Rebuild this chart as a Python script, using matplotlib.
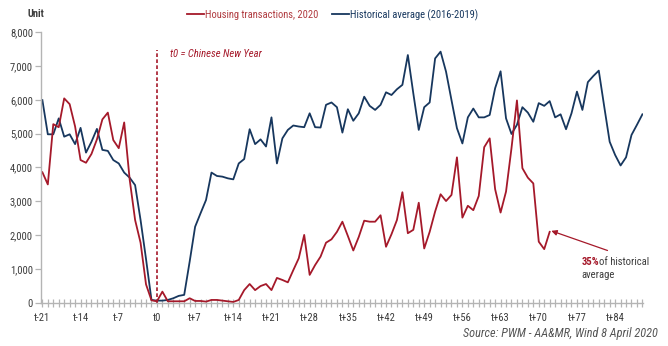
import matplotlib.pyplot as plt
from matplotlib.lines import Line2D

# day offsets around Chinese New Year (t0)
days_2020 = list(range(-21, 73))
days_hist = list(range(-21, 90))

# housing transactions 2020, units
housing_2020 = [
    3860, 3500, 5280, 5190, 6040, 5870, 5210, 4220, 4140, 4400,
    4830, 5420, 5620, 4810, 4570, 5330, 3650, 2450, 1780, 550,
    80, 50, 335, 50, 50, 50, 50, 140, 60, 60,
    40, 90, 90, 70, 50, 30, 90, 380, 560, 380,
    500, 560, 380, 740, 680, 610, 970, 1320, 2010, 830,
    1120, 1370, 1780, 1880, 2100, 2400, 1980, 1550, 1950, 2430,
    2400, 2400, 2590, 1660, 2030, 2450, 3270, 2060, 2160, 2960,
    1610, 2100, 2700, 3210, 3010, 3190, 4300, 2520, 2870, 2740,
    3160, 4600, 4860, 3360, 2670, 3290, 4570, 5980, 3980, 3700,
    3530, 1810, 1590, 2100,
]

# average of 2016-2019, units
hist_avg = [
    5990, 4980, 4980, 5450, 4910, 4980, 4690, 5170, 4440, 4760,
    5140, 4520, 4490, 4220, 4120, 3850, 3700, 3480, 2450, 1300,
    90, 70, 70, 90, 140, 210, 240, 1220, 2250, 2650,
    3040, 3850, 3750, 3730, 3680, 3650, 4120, 4250, 5130, 4690,
    4830, 4620, 5480, 4120, 4860, 5110, 5240, 5210, 5190, 5600,
    5190, 5180, 5850, 5920, 5780, 5030, 5720, 5380, 5600, 6090,
    5820, 5700, 5850, 6220, 6140, 6310, 6440, 7320, 6190, 5110,
    5780, 5920, 7220, 7420, 6830, 5990, 5160, 4710, 5480, 5740,
    5480, 5480, 5550, 6340, 6840, 5450, 4990, 5260, 5780, 5620,
    5350, 5900, 5820, 5960, 5480, 5570, 5130, 5600, 6240, 5700,
    6520, 6700, 6860, 5800, 4760, 4370, 4060, 4300, 4960, 5260,
    5570,
]

tick_days = list(range(-21, 90, 7))
tick_labels = ["t0" if d == 0 else ("t%+d" % d) for d in tick_days]

RED = "#a5192a"
NAVY = "#17375e"
GREY = "#b4b4b4"
TXT = "#3c3c3c"

plt.rcParams["font.family"] = ["Roboto Condensed", "DejaVu Sans"]

fig = plt.figure(figsize=(6.68, 3.46), dpi=100)
ax = fig.add_axes([0.0618, 0.1243, 0.9007, 0.7832])

ax.plot(days_hist, hist_avg, color=NAVY, lw=1.3)
ax.plot(days_2020, housing_2020, color=RED, lw=1.3)

# Chinese New Year marker
ax.vlines(0, 0, 7470, colors=RED, linestyles=(0, (2.2, 1.4)), lw=1.2)
ax.text(2.4, 7350, "t0 = Chinese New Year", color=RED, style="italic",
        fontsize=7.7, va="center", ha="left")

ax.set_xlim(-21.2, 89.1)
ax.set_ylim(0, 8000)
ax.set_yticks(range(0, 8001, 1000))
ax.set_yticklabels(["{:,}".format(v) for v in range(0, 8001, 1000)])
ax.set_xticks(tick_days)
ax.set_xticklabels(tick_labels)
ax.set_xticks(range(-21, 90), minor=True)

for s in ["top", "right"]:
    ax.spines[s].set_visible(False)
for s in ["left", "bottom"]:
    ax.spines[s].set_color(GREY)
    ax.spines[s].set_linewidth(1.0)

ax.tick_params(axis="x", which="both", direction="inout", length=6,
               color=GREY, width=0.9, labelsize=7.7, labelcolor=TXT, pad=4)
ax.tick_params(axis="y", direction="out", length=4, color=GREY,
               width=0.9, labelsize=7.7, labelcolor=TXT, pad=2)

# call-out on the latest value
ax.annotate("", xy=(72.3, 2130), xytext=(82.6, 1550),
            arrowprops=dict(arrowstyle="-|>", color=RED, lw=0.9,
                            mutation_scale=8, shrinkA=0, shrinkB=0))
ax.text(77.8, 1200, "35%", color=RED, fontweight="bold", fontsize=7.7,
        va="center", ha="left")
ax.annotate("of historical", xy=(77.8, 1200), xytext=(12.5, 0),
            textcoords="offset points", color=TXT, fontsize=7.7,
            va="center", ha="left")
ax.text(77.8, 840, "average", color=TXT, fontsize=7.7, va="center", ha="left")

fig.text(28 / 668, 1 - 14 / 346, "Unit", color=TXT, fontsize=7.5,
         fontweight="bold", va="center", ha="left")

handles = [Line2D([], [], color=RED, lw=1.3),
           Line2D([], [], color=NAVY, lw=1.3)]
leg = fig.legend(handles, ["Housing transactions, 2020", "Historical average (2016-2019)"],
                 loc="center", bbox_to_anchor=(0.498, 1 - 15 / 346), ncol=2,
                 frameon=False, fontsize=7.6, handlelength=1.6, handletextpad=0.1,
                 columnspacing=1.3)
leg.get_texts()[0].set_color("#b03a3f")
leg.get_texts()[1].set_color(NAVY)

fig.text(658 / 668, 1 - 334 / 346, "Source: PWM - AA&MR, Wind 8 April 2020",
         color="#555555", style="italic", fontsize=8.8, ha="right", va="center")

fig.savefig("out.png", dpi=100, facecolor="white")
